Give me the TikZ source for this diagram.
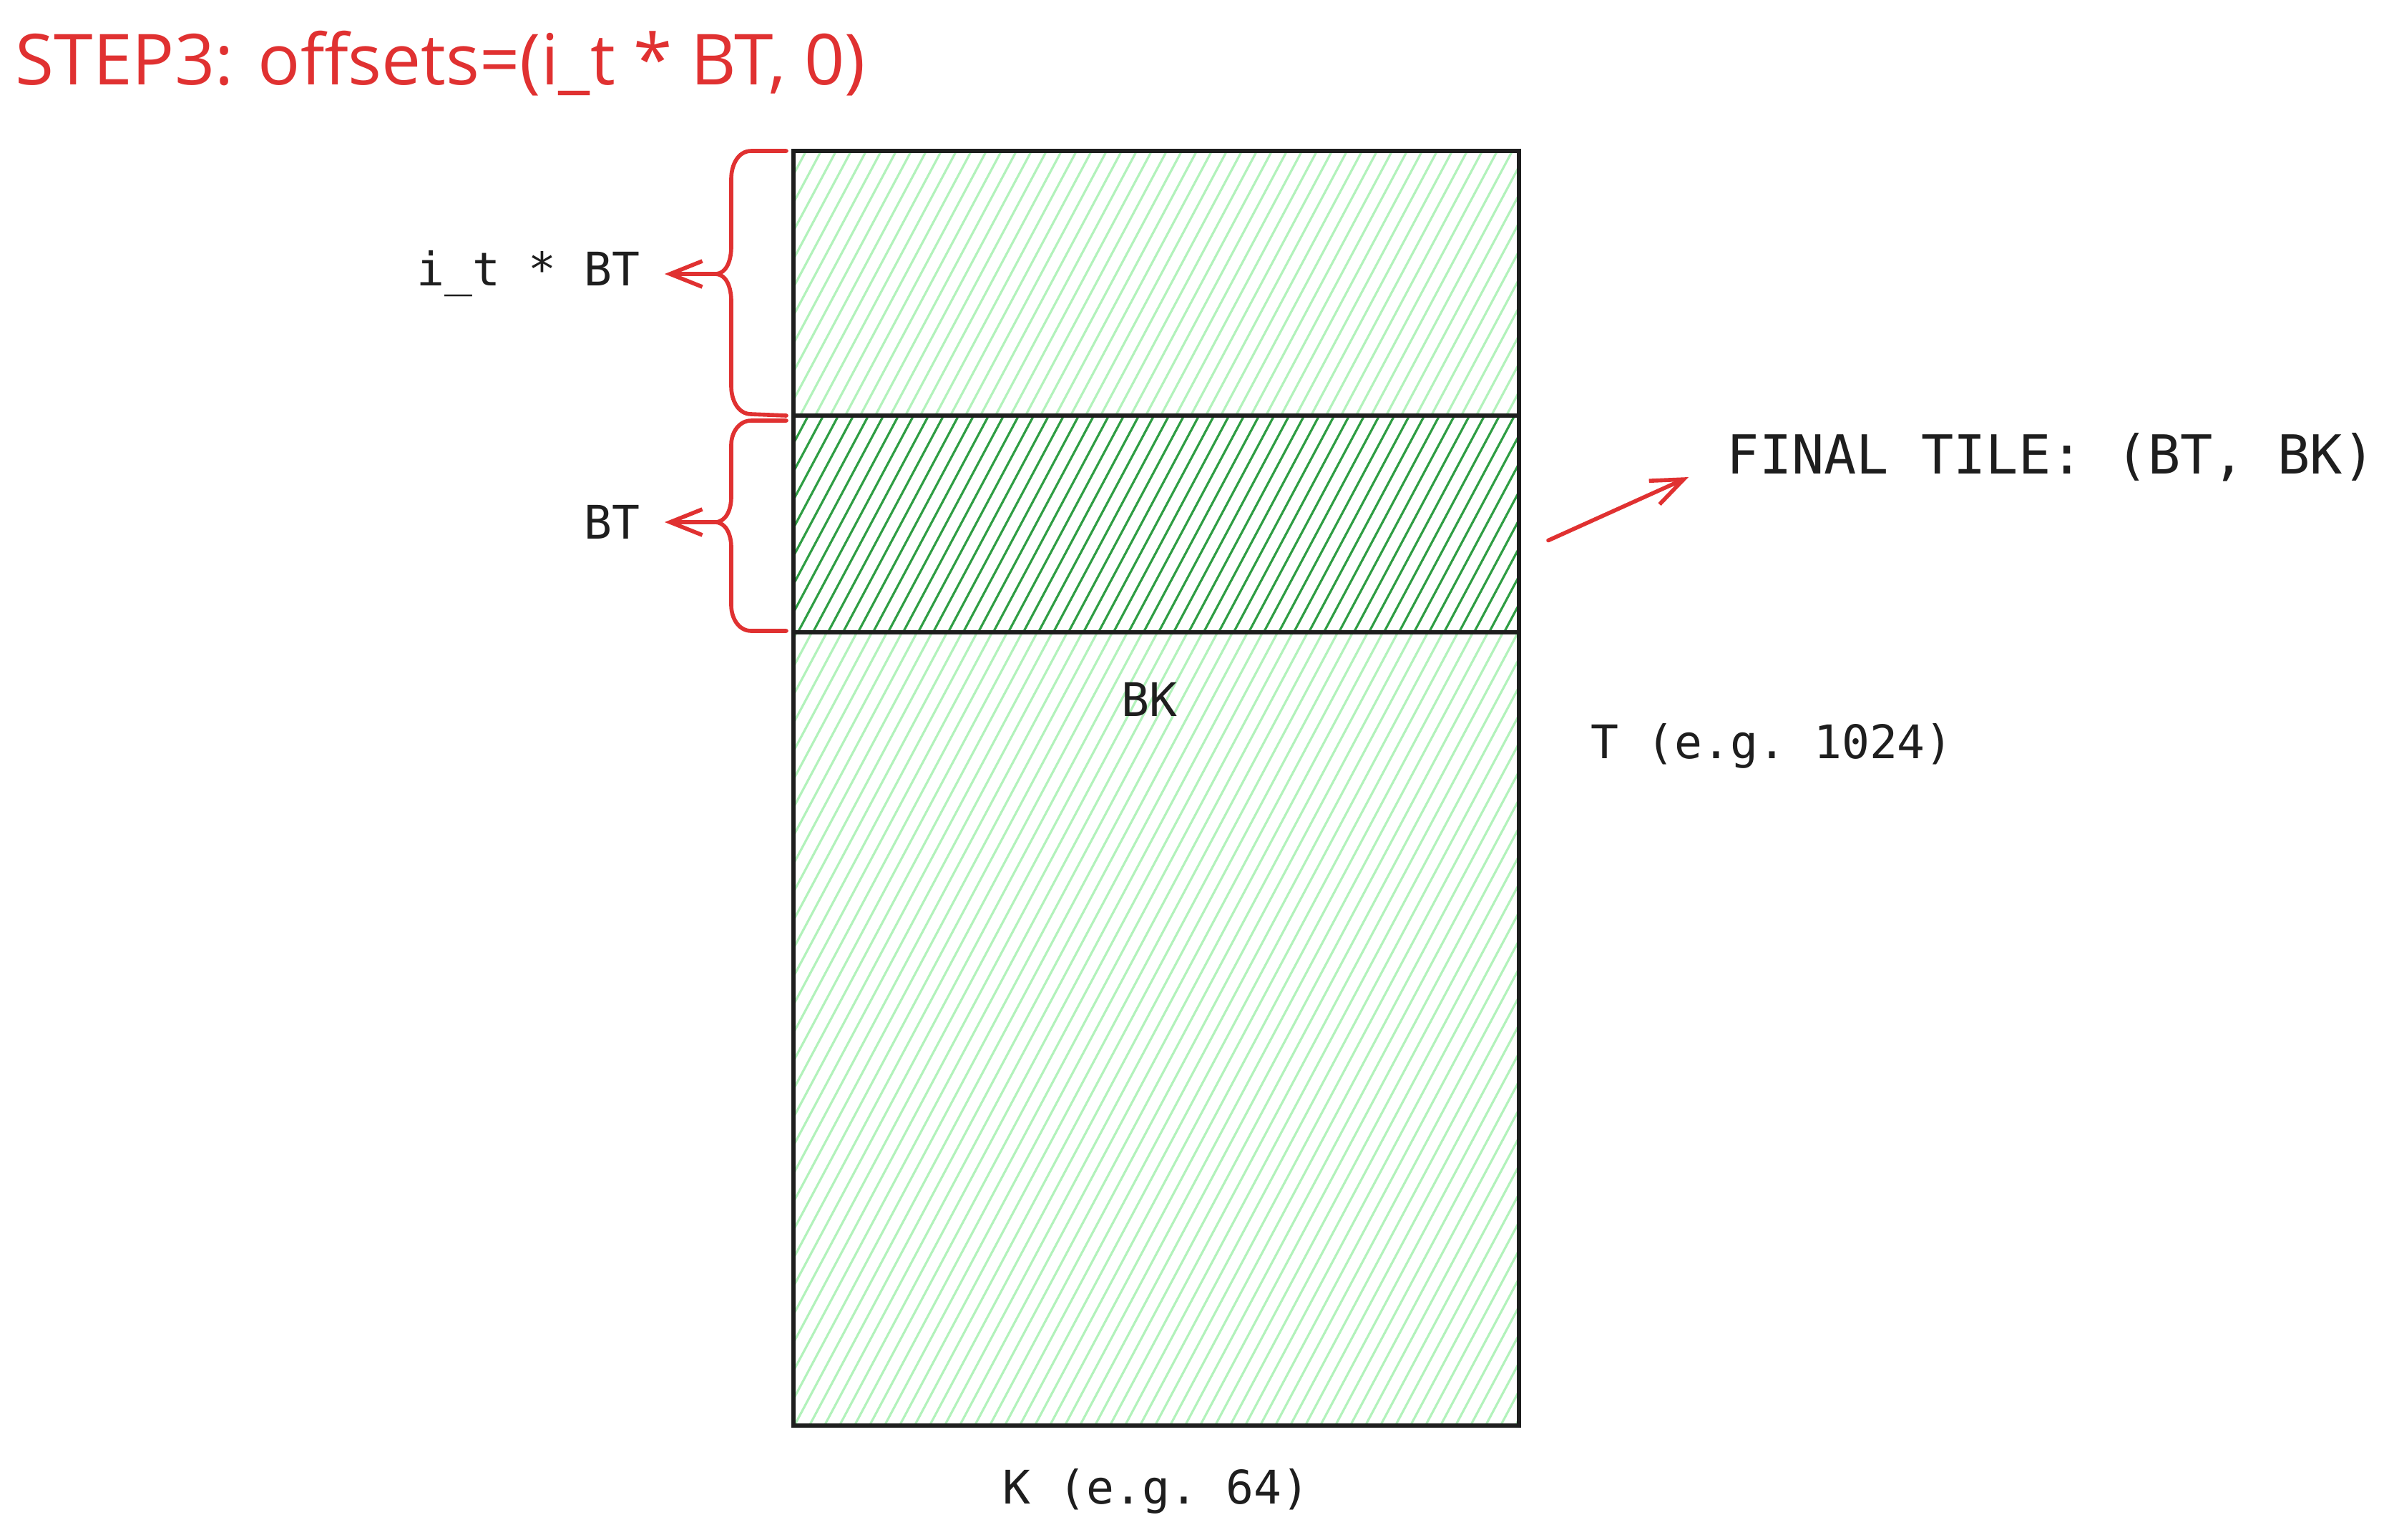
\documentclass[tikz,border=0pt]{standalone}
\usepackage{fontspec}
\setmonofont{DejaVu Sans Mono}
\newfontfamily\titlefont{Open Sans}
\usetikzlibrary{arrows.meta,positioning}
\definecolor{inkgray}{HTML}{1E1E1E}
\definecolor{accent}{HTML}{E03131}
\definecolor{palegreen}{HTML}{B2F2BB}
\definecolor{deepgreen}{HTML}{2F9E44}

\begin{document}
\begin{tikzpicture}[
	>={Straight Barb[length=4.5mm,width=3.6mm]},
	tile/.style={draw=inkgray, line width=1.6pt, minimum width=10.14cm, inner sep=0pt, outer sep=0pt,
		path picture={\foreach \k in {-42,...,42}
			\draw[#1, line width=0.9pt] ([shift={(\k*0.21-3.2,-6)}]path picture bounding box.center) -- ++(6.4,12);}},
	brace/.style={draw=accent, line width=1.6pt, line cap=round, line join=round},
	pointer/.style={->, draw=accent, line width=1.6pt, line cap=round},
	code/.style={font=\ttfamily\fontsize{18.4}{22}\selectfont, text=inkgray, inner sep=0pt},
	heading/.style={font=\titlefont\fontsize{28}{34}\selectfont, text=accent, inner sep=0pt}
	]
	\useasboundingbox (0,0) rectangle (33.39,-21.52);
	
	\node[heading, anchor=west] (title) at (0.21,-0.89) {STEP3: offsets=(i\_t * BT, 0)};
	
	% the tensor, cut in three tiles
	\node[tile=palegreen, minimum height=3.70cm] (tileA) at (16.16,-3.96) {};
	\node[tile=deepgreen, minimum height=3.03cm, below=0pt of tileA] (tileB) {};
	\node[tile=palegreen, minimum height=11.09cm, below=0pt of tileB] (tileC) {};
	
	% braces on the left
	\draw[brace] ([xshift=-1mm]tileA.north west) -- (10.50,-2.11) to[out=180,in=90] (10.22,-2.50)
		-- (10.22,-3.45) to[out=-90,in=0] (9.99,-3.83) coordinate (tipA)
		to[out=0,in=90] (10.22,-4.21) -- (10.22,-5.40) to[out=-90,in=180] (10.50,-5.79)
		-- ([xshift=-1mm]tileA.south west);
	\draw[brace] ([shift={(-1mm,-0.07)}]tileB.north west) -- (10.50,-5.88) to[out=180,in=90] (10.22,-6.22)
		-- (10.22,-6.95) to[out=-90,in=0] (9.99,-7.30) coordinate (tipB)
		to[out=0,in=90] (10.22,-7.65) -- (10.22,-8.46) to[out=-90,in=180] (10.50,-8.82)
		-- ([shift={(-1mm,0.02)}]tileB.south west);
	
	\node[code, anchor=east, outer sep=3.5mm] (offLbl) at (9.29,-3.83) {i\_t * BT};
	\node[code, anchor=east, outer sep=3.5mm] (btLbl) at (9.29,-7.30) {BT};
	\draw[pointer] (tipA) -- (offLbl.east);
	\draw[pointer] (tipB) -- (btLbl.east);
	
	% sizes
	\node[code, below=7mm of tileB, xshift=-1mm] (bkLbl) {BK};
	\node[code, anchor=west] (tLbl) at (22.23,-10.43) {T (e.g. 1024)};
	\node[code, below=6mm of tileC] (kLbl) {K (e.g. 64)};
	
	% result
	\node[code, font=\ttfamily\fontsize{21.4}{26}\selectfont, anchor=west] (finalLbl) at (24.13,-6.39) {FINAL TILE: (BT, BK)};
	\coordinate (tileOut) at ([shift={(0.41,-0.23)}]tileB.east);
	\draw[pointer] (tileOut) -- ([shift={(-0.53,-0.28)}]finalLbl.west);
\end{tikzpicture}
\end{document}
